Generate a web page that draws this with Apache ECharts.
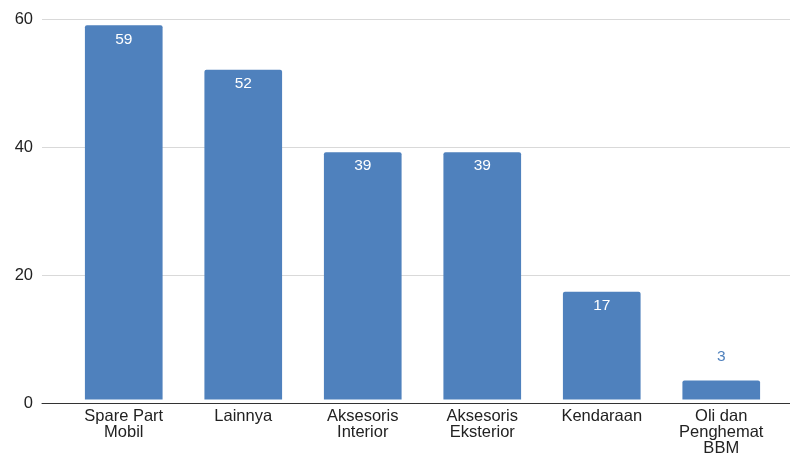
<!DOCTYPE html>
<html>
<head>
<meta charset="utf-8">
<script src="https://cdn.jsdelivr.net/npm/echarts@6/dist/echarts.min.js"></script>
<style>html,body{margin:0;padding:0;background:#fff;}#c{width:790px;height:457px;}</style>
</head>
<body>
<div id="c"></div>
<script>
var categories = ['Spare Part\nMobil', 'Lainnya', 'Aksesoris\nInterior', 'Aksesoris\nEksterior', 'Kendaraan', 'Oli dan\nPenghemat\nBBM'];
var values = [59, 52, 39, 39, 17, 3];
var yTicks = [0, 20, 40, 60];

var FONT = 'Liberation Sans, Arial, sans-serif';
var chart = echarts.init(document.getElementById('c'), null, {renderer: 'canvas'});
var data = values.map(function (v) {
  var d = {value: v};
  if (v < 10) {
    d.label = {position: 'top', distance: 16, color: '#4f81bd'};
  }
  return d;
});
chart.setOption({
  animation: false,
  backgroundColor: '#fff',
  grid: [
    {left: 42, right: 0, top: 19, bottom: 54},
    {left: 64, right: 9, top: 19, bottom: 54}
  ],
  xAxis: [
    {gridIndex: 0, type: 'category', data: categories, axisLine: {show: true, lineStyle: {color: '#333', width: 1}},
     axisTick: {show: false}, axisLabel: {show: false}, splitLine: {show: false}},
    {gridIndex: 1, type: 'category', data: categories, axisLine: {show: false}, axisTick: {show: false},
     axisLabel: {color: '#222', fontFamily: FONT, fontSize: 16.5, lineHeight: 16, margin: 9, interval: 0}}
  ],
  yAxis: [
    {gridIndex: 0, type: 'value', min: yTicks[0], max: yTicks[yTicks.length - 1], interval: 20,
     axisLine: {show: false}, axisTick: {show: false},
     axisLabel: {color: '#222', fontFamily: FONT, fontSize: 16.5, margin: 9},
     splitLine: {lineStyle: {color: '#d9d9d9', width: 1}}},
    {gridIndex: 1, type: 'value', min: yTicks[0], max: yTicks[yTicks.length - 1], interval: 20,
     show: false, splitLine: {show: false}}
  ],
  series: [{
    type: 'bar',
    xAxisIndex: 1, yAxisIndex: 1,
    data: data,
    barWidth: '65%',
    itemStyle: {color: '#4f81bd', borderRadius: [2, 2, 0, 0]},
    label: {show: true, position: 'insideTop', distance: 6, color: '#fff', fontFamily: FONT, fontSize: 15.5}
  }]
});
</script>
</body>
</html>
